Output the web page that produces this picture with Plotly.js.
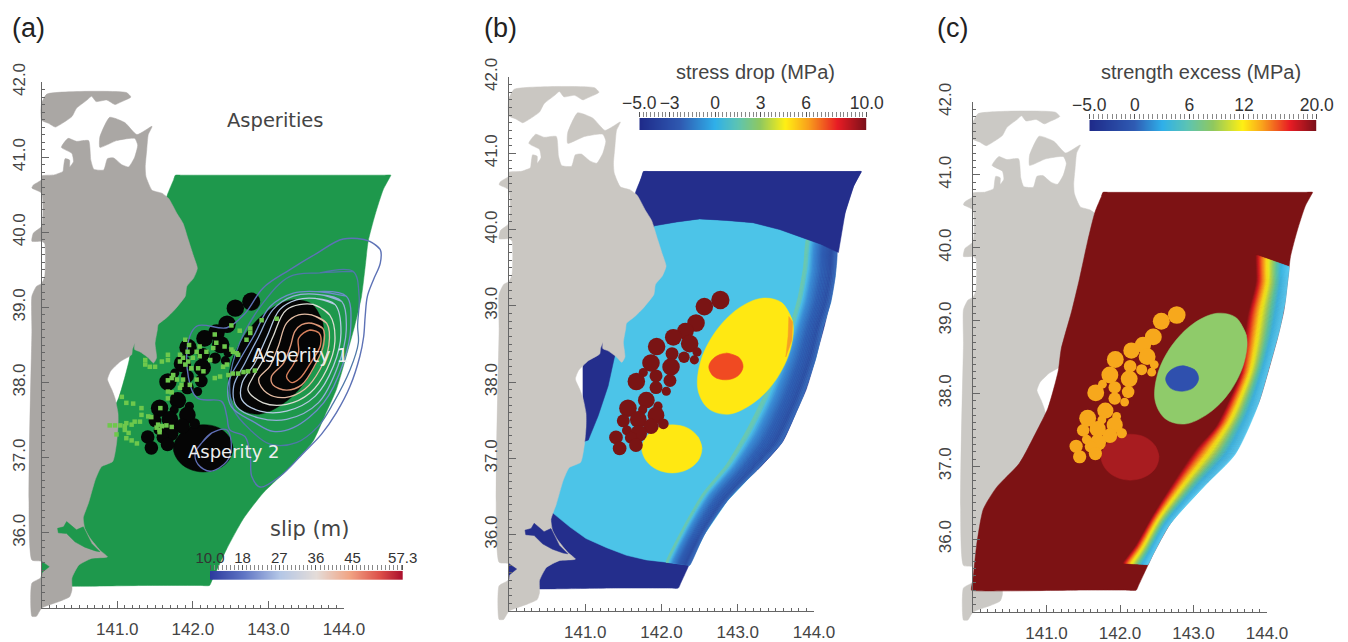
<!DOCTYPE html>
<html><head><meta charset="utf-8">
<script src="https://cdn.plot.ly/plotly-3.0.1.min.js"></script>
<style>html,body{margin:0;padding:0;background:#fff}#p{width:1348px;height:642px}</style>
</head><body><div id="p"></div>
<script>
// ---------- geography, [lon, lat] ----------
const hokkaido = [[140.00,41.72],[140.07,41.84],[141.12,41.86],[141.18,41.80],[141.04,41.73],[140.97,41.70],[140.86,41.76],[140.72,41.74],[140.66,41.81],[140.60,41.76],[140.46,41.65],[140.40,41.54],[140.24,41.43],[140.18,41.40],[140.09,41.45],[140.00,41.49],[139.99,41.61]];
const honshu = [[140.00,40.75],[140.15,40.76],[140.28,40.81],[140.29,40.87],[140.31,40.98],[140.37,40.96],[140.37,40.87],[140.42,40.94],[140.40,41.05],[140.26,41.13],[140.35,41.25],[140.46,41.21],[140.62,41.22],[140.65,40.96],[140.69,40.84],[140.82,40.83],[140.87,40.98],[140.95,40.99],[141.06,40.90],[141.15,40.87],[141.23,41.00],[141.27,41.16],[141.23,41.25],[140.99,41.22],[140.77,41.13],[140.77,41.27],[140.90,41.53],[141.10,41.46],[141.26,41.30],[141.46,41.41],[141.41,41.30],[141.39,41.10],[141.37,40.87],[141.38,40.74],[141.46,40.56],[141.59,40.52],[141.68,40.45],[141.79,40.25],[141.87,40.12],[141.94,39.90],[142.01,39.68],[142.06,39.52],[142.01,39.39],[141.92,39.28],[141.90,39.15],[141.76,38.97],[141.65,38.86],[141.54,38.77],[141.53,38.70],[141.50,38.52],[141.52,38.33],[141.48,38.26],[141.41,38.33],[141.30,38.41],[141.23,38.44],[141.23,38.52],[141.20,38.44],[141.19,38.37],[141.04,38.28],[140.91,38.15],[140.87,38.04],[140.93,37.90],[140.97,37.79],[141.01,37.59],[141.01,37.41],[140.99,37.19],[140.94,36.95],[140.79,36.88],[140.71,36.71],[140.62,36.40],[140.55,36.20],[140.57,36.06],[140.64,35.93],[140.77,35.77],[140.87,35.68],[140.66,35.66],[140.49,35.57],[140.40,35.40],[140.40,35.24],[140.37,35.15],[140.24,35.09],[140.00,35.00],[139.93,34.89],[139.87,34.89],[139.87,35.33],[140.00,35.41],[140.00,35.62],[139.87,35.64],[139.87,38.70],[139.87,39.15],[139.93,39.28],[140.00,39.32],[140.04,39.41],[140.04,39.85],[140.00,39.88],[139.87,39.88],[139.89,39.99],[140.00,40.08],[140.00,40.52],[139.87,40.59],[139.89,40.63],[140.00,40.70]];
const inlet = [[140.21,36.06],[140.29,36.08],[140.33,36.15],[140.46,36.04],[140.55,36.08],[140.60,35.97],[140.66,35.86],[140.77,35.75],[140.71,35.76],[140.57,35.81],[140.44,35.88],[140.33,35.99],[140.22,36.00]];
const bayBlob = [[140.00,35.62],[140.10,35.55],[140.00,35.47]];
const faultPlane = [[141.77,40.76],[141.75,40.71],[141.66,40.49],[141.56,40.09],[141.45,39.58],[141.34,39.12],[141.20,38.61],[141.16,38.31],[141.02,37.80],[140.86,37.47],[140.63,37.04],[140.32,36.71],[140.14,36.41],[140.05,35.92],[140.00,35.45],[139.98,35.30],[140.06,35.29],[140.60,35.29],[141.40,35.30],[142.10,35.30],[142.22,35.30],[142.25,35.36],[142.45,35.79],[142.67,36.19],[142.93,36.53],[143.29,36.88],[143.59,37.22],[143.75,37.57],[143.90,37.91],[144.03,38.35],[144.14,38.75],[144.23,39.14],[144.28,39.54],[144.32,39.88],[144.41,40.23],[144.52,40.57],[144.60,40.72],[144.62,40.76],[144.52,40.76],[143.90,40.76],[143.00,40.76],[142.20,40.76],[141.85,40.76]];

// ---------- asperities ----------
const asperity1 = [[143.58,39.04],[143.72,38.79],[143.69,38.43],[143.50,38.03],[143.21,37.73],[142.88,37.58],[142.62,37.65],[142.48,37.89],[142.51,38.26],[142.70,38.65],[143.00,38.96],[143.32,39.10]];
const asperity2 = [[142.53,37.13],[142.48,37.28],[142.34,37.40],[142.14,37.44],[141.94,37.40],[141.80,37.28],[141.74,37.13],[141.80,36.97],[141.94,36.855],[142.14,36.81],[142.34,36.855],[142.48,36.97]];
const hypoPatch = [[142.85,38.38],[143.02,38.32],[143.07,38.20],[143.00,38.08],[142.85,38.03],[142.69,38.07],[142.62,38.20],[142.69,38.32]];
const asperityTip = [[143.67,38.86],[143.72,38.79],[143.71,38.55],[143.63,38.33],[143.66,38.60]];

// ---------- small patches ----------
const patchLon = [142.772,142.562,142.453,142.313,142.155,142.369,141.936,142.138,142.466,142.295,142.431,141.862,142.125,141.761,141.928,142.111,141.670,141.928,142.063,141.801,141.954,141.560,141.753,141.928,141.499,141.696,142.024,141.862,141.547,141.700,141.403,141.600,141.665,141.451];
const patchLat = [39.077,38.990,38.776,38.667,38.588,38.505,38.466,38.374,38.396,38.326,38.292,38.252,38.200,38.126,38.082,38.021,38.008,37.929,37.881,37.764,37.685,37.659,37.637,37.567,37.493,37.511,37.454,37.419,37.367,37.327,37.275,37.271,37.175,37.131];
const patchDiameterDeg = [.24,.23,.23,.22,.22,.23,.23,.17,.12,.15,.12,.23,.23,.12,.17,.17,.23,.17,.12,.22,.12,.23,.12,.22,.17,.22,.14,.2,.13,.22,.18,.16,.18,.18];

// ---------- aftershocks (panel a) ----------
const shockLon = [142.91,143.11,142.76,142.76,142.71,142.62,142.51,142.29,142.31,142.09,141.90,141.95,141.83,141.87,141.93,142.05,142.18,142.27,142.42,142.51,142.58,142.53,142.60,142.45,142.40,142.36,142.29,142.47,142.53,142.60,142.67,142.73,142.82,142.23,142.09,142.00,141.94,141.90,141.83,142.07,142.14,141.98,141.74,141.72,141.79,141.85,141.83,142.05,141.96,141.87,141.67,141.67,141.67,141.72,141.57,141.37,141.37,141.43,141.50,141.59,141.67,141.67,141.06,141.12,141.21,141.32,141.32,141.30,141.23,141.41,141.45,141.19,141.12,141.10,141.04,140.97,140.90,141.10,141.15,141.12,141.19,141.26,140.99,141.54,141.59,141.65,141.56,141.72,141.56,141.52];
const shockLat = [38.83,38.85,38.72,38.66,38.57,38.69,38.76,38.64,38.53,38.48,38.57,38.50,38.37,38.33,38.41,38.41,38.41,38.46,38.48,38.44,38.39,38.41,38.37,38.24,38.21,38.08,38.06,38.10,38.12,38.12,38.14,38.15,38.16,38.30,38.35,38.33,38.28,38.24,38.28,38.19,38.15,38.19,38.10,38.06,38.04,37.97,37.93,38.04,37.97,38.04,38.03,37.88,37.79,37.87,37.66,38.30,38.24,38.21,38.21,38.28,38.37,38.30,37.81,37.73,37.72,37.66,37.57,37.48,37.48,37.55,37.54,37.44,37.46,37.42,37.43,37.43,37.43,37.37,37.33,37.26,37.23,37.19,37.31,37.44,37.42,37.43,37.37,37.41,37.34,37.40];

// ---------- slip contours (panel a), outer to inner ----------
const slipC0 = [[144.34,39.88],[144.48,39.77],[144.48,39.59],[144.39,39.37],[144.31,39.15],[144.28,38.88],[144.26,38.61],[144.21,38.35],[144.08,37.95],[143.90,37.60],[143.70,37.31],[143.46,37.06],[143.15,36.75],[142.89,36.61],[142.78,36.75],[142.76,37.02],[142.69,37.28],[142.49,37.37],[142.45,37.55],[142.38,37.75],[142.05,37.80],[141.92,38.39],[142.05,38.75],[142.45,38.73],[142.69,38.92],[142.93,39.26],[143.28,39.50],[143.64,39.72],[143.99,39.91]];
const slipC1 = [[143.68,39.46],[144.12,39.48],[144.20,39.15],[144.18,38.75],[144.19,38.53],[144.08,38.17],[143.86,37.73],[143.66,37.42],[143.37,37.20],[143.02,37.18],[142.76,37.37],[142.54,37.64],[142.49,38.04],[142.62,38.53],[142.93,39.06],[143.28,39.41]];
const slipC2 = [[143.64,39.21],[144.03,39.15],[144.09,38.75],[143.99,38.26],[143.73,37.73],[143.33,37.40],[143.06,37.35],[142.80,37.48],[142.51,37.68],[142.47,37.99],[142.62,38.30],[142.80,38.61],[143.02,39.01],[143.33,39.19]];
const slipC3 = [[143.68,39.17],[143.97,39.08],[144.03,38.70],[143.92,38.22],[143.66,37.73],[143.24,37.51],[142.87,37.53],[142.58,37.68],[142.54,37.95],[142.69,38.26],[142.87,38.61],[143.06,38.97],[143.33,39.15]];
const slipC4 = [[143.62,39.12],[143.88,39.04],[143.96,38.66],[143.86,38.22],[143.62,37.82],[143.24,37.62],[142.89,37.62],[142.65,37.77],[142.65,37.99],[142.82,38.26],[142.98,38.61],[143.15,38.97],[143.37,39.10]];
const slipC5 = [[143.59,39.04],[143.81,38.90],[143.88,38.55],[143.77,38.17],[143.55,37.86],[143.24,37.71],[142.93,37.73],[142.73,37.90],[142.80,38.08],[142.93,38.30],[143.06,38.61],[143.24,38.97]];
const slipC6 = [[143.57,38.90],[143.77,38.79],[143.80,38.50],[143.68,38.17],[143.48,37.91],[143.22,37.80],[142.98,37.86],[142.87,38.04],[143.02,38.22],[143.13,38.48],[143.24,38.79],[143.40,38.90]];
const slipC7 = [[143.57,38.79],[143.72,38.72],[143.73,38.50],[143.62,38.24],[143.44,37.97],[143.24,37.90],[143.06,37.97],[143.04,38.08],[143.20,38.26],[143.29,38.48],[143.35,38.68],[143.44,38.77]];
const slipC8 = [[143.55,38.70],[143.67,38.66],[143.69,38.50],[143.57,38.28],[143.42,38.06],[143.31,38.00],[143.24,38.08],[143.33,38.24],[143.40,38.41],[143.40,38.59]];
const slipLoop2 = [[142.12,37.20],[142.25,37.33],[142.45,37.37],[142.51,37.15],[142.45,36.95],[142.23,36.82],[142.07,36.91],[142.03,37.06]];

// ---------- panel b regions ----------
const arcNorth = [[141.91,40.05],[142.20,40.10],[142.50,40.14],[142.85,40.12],[143.20,40.09],[143.55,40.00],[143.86,39.89],[144.08,39.81],[144.30,39.72]];
const arcSouth = [[140.58,36.28],[140.80,36.10],[141.01,35.95],[141.28,35.83],[141.54,35.73],[141.80,35.67],[142.06,35.64],[142.37,35.60]];
const sendaiStrip = [[141.21,38.41],[141.39,38.36],[141.30,37.95],[141.17,37.56],[141.04,37.24],[140.97,37.22],[140.97,38.34]];
const stressInner = [[143.90,39.87],[143.86,39.50],[143.79,39.11],[143.68,38.72],[143.55,38.34],[143.33,37.80],[143.11,37.36],[142.85,36.92],[142.54,36.54],[142.28,36.09],[142.06,35.64]];
const stressOuter = [[144.30,39.72],[144.28,39.40],[144.22,39.05],[144.12,38.73],[144.02,38.30],[143.84,37.78],[143.57,37.20],[143.25,36.85],[142.86,36.44],[142.56,36.00],[142.37,35.60]];

// ---------- panel c regions ----------
const strengthInner = [[143.85,39.90],[143.85,39.53],[143.74,39.07],[143.67,38.56],[143.63,38.26],[143.31,37.55],[143.04,37.24],[142.77,36.84],[142.45,36.33],[142.22,35.92],[142.04,35.67]];
const strengthOuter = [[144.30,39.74],[144.28,39.53],[144.25,39.27],[144.17,38.87],[144.03,38.36],[143.87,37.82],[143.57,37.17],[143.16,36.74],[142.67,36.19],[142.45,35.79],[142.38,35.65]];

// ---------- colour bars ----------
const slipLevels = [10,18,27,36,45,57.3];
const slipLabels = ['10.0','18','27','36','45','57.3'];
const stressLevels = [-5,-3,0,3,6,10];
const stressLabels = ['\u22125.0','\u22123','0','3','6','10.0'];
const strengthLevels = [-5,0,6,12,20];
const strengthLabels = ['\u22125.0','0','6','12','20.0'];

// ---------- styles ----------
const W=1348,H=642;
const slipScale=[[0,'#2c3a9e'],[.17,'#5f74c4'],[.36,'#b3c6e6'],[.55,'#e4dcd8'],[.72,'#f1a484'],[.88,'#dc4e48'],[1,'#a80c2c']];
const stressScale=[[0,'#1f2b8a'],[.18,'#2f5ab2'],[.33,'#2fb0ea'],[.43,'#5cc4b4'],[.53,'#8fc860'],[.64,'#fff014'],[.74,'#f9a01c'],[.87,'#e81c24'],[1,'#78101a']];
const strengthScale=[[0,'#1f2b8a'],[.2,'#2f5cb4'],[.32,'#2fb0ea'],[.43,'#5cc4b4'],[.54,'#8fc860'],[.67,'#fff014'],[.76,'#f9a01c'],[.88,'#e81c24'],[1,'#78101a']];
const bandStressStops=[[0,'#6cc8ae'],[.1,'#68c8b4'],[.16,'#4bbce6'],[.3,'#3a8ad4'],[.55,'#2f5fb4'],[.85,'#2c4ea3'],[1,'#3868b8']];
const bandStrengthStops=[[0,'#7d1214'],[.1,'#d81c20'],[.2,'#f3701e'],[.33,'#f9d81a'],[.4,'#e8e820'],[.52,'#9ccc60'],[.64,'#5cc4a0'],[.78,'#3cb4e0'],[1,'#58c8f0']];

const panels=[
 {x0:41.7,x1:344,y0:82,y1:608,dx:[25,440],dy:[70,640],stand:9},
 {x0:509,x1:814,y0:77,y1:611,dx:[480,900],dy:[65,640],stand:4},
 {x0:973,x1:1267,y0:102,y1:612,dx:[950,1340],dy:[90,640],stand:14}
];
const bars=[
 {x0:210,x1:402.7,y0:570.7,y1:580,lv:slipLevels,lb:slipLabels,cs:slipScale,fs:15,minor:1},
 {x0:639.3,x1:866.7,y0:118,y1:130,lv:stressLevels,lb:stressLabels,cs:stressScale,fs:17.5,minor:.25},
 {x0:1089.3,x1:1316.7,y0:120,y1:131,lv:strengthLevels,lb:strengthLabels,cs:strengthScale,fs:17.5,minor:.5}
];
const landCol=['#aaa7a4','#cac7c2','#cbc9c5'];

const traces=[];
function poly(i,pts,col,sm){
  const c=sm?pts.concat([pts[0],pts[1]]):pts.concat([pts[0]]);
  traces.push({type:'scatter',mode:'lines',xaxis:'x'+(i+1),yaxis:'y'+(i+1),x:c.map(a=>a[0]),y:c.map(a=>a[1]),
    fill:'toself',fillcolor:col,line:{color:col,width:0.5,shape:sm?'spline':'linear',smoothing:sm||1},hoverinfo:'skip'});
}
function contour(pts,col,w){
  const c=pts.concat([pts[0],pts[1]]);
  traces.push({type:'scatter',mode:'lines',xaxis:'x1',yaxis:'y1',x:c.map(a=>a[0]),y:c.map(a=>a[1]),
    line:{color:col,width:w||1.3,shape:'spline',smoothing:1},hoverinfo:'skip'});
}
function patches(i,col){
  const s=(panels[i].x1-panels[i].x0)/4;
  traces.push({type:'scatter',mode:'markers',xaxis:'x'+(i+1),yaxis:'y'+(i+1),x:patchLon,y:patchLat,
    marker:{color:col,opacity:1,size:patchDiameterDeg.map(d=>d*s),line:{width:0}},hoverinfo:'skip'});
}
function hex(c){return [1,3,5].map(k=>parseInt(c.substr(k,2),16));}
function stopCol(st,f){
  for(let k=1;k<st.length;k++){ if(f<=st[k][0]){
    const t=(f-st[k-1][0])/(st[k][0]-st[k-1][0]),a=hex(st[k-1][1]),b=hex(st[k][1]);
    return 'rgb('+a.map((v,n)=>Math.round(v+(b[n]-v)*t)).join(',')+')';}}
  return st[st.length-1][1];
}
// gradient band between two edge curves, drawn as thin strips
function band(i,inner,outer,stops,n){
  const mix=f=>inner.map((p,k)=>[p[0]+(outer[k][0]-p[0])*f,p[1]+(outer[k][1]-p[1])*f]);
  for(let s=0;s<n;s++){
    const a=mix(s/n),b=mix((s+1)/n).reverse();
    const col=stopCol(stops,(s+.5)/n), c=a.concat(b,[a[0]]);
    traces.push({type:'scatter',mode:'lines',xaxis:'x'+(i+1),yaxis:'y'+(i+1),x:c.map(q=>q[0]),y:c.map(q=>q[1]),
      fill:'toself',fillcolor:col,line:{color:col,width:0.6,shape:'spline',smoothing:.7},hoverinfo:'skip'});
  }
}

// PANEL A
const green='#1e984c';
poly(0,faultPlane,green,.6);
poly(0,hokkaido,landCol[0],.5);poly(0,honshu,landCol[0],.5);poly(0,inlet,green);poly(0,bayBlob,green);
poly(0,asperity1,'#050505',1);poly(0,asperity2,'#050505',1);
patches(0,'#050505');
contour(slipC0,'#5d72b6',1.4);contour(slipC1,'#4f78a8',1.3);contour(slipC2,'#6f8ccc',1.3);contour(slipC3,'#94b0d8',1.3);
contour(slipC4,'#b6cbe4',1.3);contour(slipC5,'#dcdcd4',1.3);contour(slipC6,'#e4bda4',1.3);contour(slipC7,'#dd9676',1.4);contour(slipC8,'#d8805c',1.4);
contour(slipLoop2,'#5f6fb5',1.3);
traces.push({type:'scatter',mode:'markers',xaxis:'x1',yaxis:'y1',x:shockLon,y:shockLat,marker:{symbol:'square',size:4.5,color:'#6ec84c',line:{width:0}},hoverinfo:'skip'});

// PANEL B
const navy='#242e8c',sky='#4cc4e8';
poly(1,faultPlane,navy,.6);
poly(1,arcNorth.concat(stressOuter.slice(1),arcSouth.slice().reverse(),[[140.3,36.9],[141.04,37.24],[141.39,38.36],[141.5,39.0]]),sky);
band(1,stressInner,stressOuter,bandStressStops,22);
poly(1,[[144.32,39.70],[144.41,40.23],[144.52,40.57],[144.62,40.76],[141.76,40.76],[141.62,40.3]].concat(arcNorth.slice(0,-1)),navy);
poly(1,sendaiStrip,navy);
poly(1,hokkaido,landCol[1],.5);poly(1,honshu,landCol[1],.5);poly(1,inlet,navy);poly(1,bayBlob,navy);
poly(1,asperity1,'#ffe812',1);poly(1,asperityTip,'#f6a024');poly(1,asperity2,'#ffe812',1);poly(1,hypoPatch,'#f04a22',1);
patches(1,'#7a1414');

// PANEL C
poly(2,hokkaido,landCol[2],.5);poly(2,honshu,landCol[2],.5);
poly(2,faultPlane,'#7d1214',.6);
band(2,strengthInner,strengthOuter,bandStrengthStops,40);
poly(2,asperity1,'#8fcb6a',1);poly(2,asperity2,'#a81c20',1);poly(2,hypoPatch,'#2f50ae',1);
patches(2,'#f7a81c');

// layout
const layout={width:W,height:H,margin:{l:0,r:0,t:0,b:0},paper_bgcolor:'#fff',plot_bgcolor:'rgba(0,0,0,0)',showlegend:false,hovermode:false,
  font:{family:'Liberation Sans, Arial, sans-serif',color:'#444'},annotations:[]};
const hide={visible:false,fixedrange:true};
panels.forEach((p,i)=>{
  const sx=(p.x1-p.x0)/4, sy=(p.y1-p.y0)/7;
  layout['xaxis'+(i+1)]=Object.assign({},hide,{domain:[p.dx[0]/W,p.dx[1]/W],range:[140+(p.dx[0]-p.x0)/sx,140+(p.dx[1]-p.x0)/sx],anchor:'y'+(i+1)});
  layout['yaxis'+(i+1)]=Object.assign({},hide,{domain:[1-p.dy[1]/H,1-p.dy[0]/H],range:[35-(p.dy[1]-p.y1)/sy,35+(p.y1-p.dy[0])/sy],anchor:'x'+(i+1)});
  const n=i+4;
  traces.push({type:'scatter',mode:'markers',x:[140],y:[35],xaxis:'x'+n,yaxis:'y'+n,marker:{opacity:0,size:1},hoverinfo:'skip'});
  const tk={showline:true,linecolor:'#666',linewidth:1.2,ticks:'inside',tickcolor:'#666',tickwidth:1,ticklen:7,showgrid:false,zeroline:false,fixedrange:true,
    tickfont:{size:17,color:'#444',family:'Liberation Sans, Arial, sans-serif'}};
  layout['xaxis'+n]=Object.assign({},tk,{domain:[p.x0/W,p.x1/W],range:[140,144],anchor:'y'+n,tickmode:'array',tickvals:[140,141,142,143,144],ticktext:['','141.0','142.0','143.0','144.0'],ticklabelstandoff:5,
    minor:{dtick:.1,tick0:140,ticks:'inside',ticklen:3,tickcolor:'#666',tickwidth:1,showgrid:false}});
  layout['yaxis'+n]=Object.assign({},tk,{domain:[1-p.y1/H,1-p.y0/H],range:[35,42],anchor:'x'+n,tickmode:'array',tickvals:[35,36,37,38,39,40,41,42],ticktext:['','36.0','37.0','38.0','39.0','40.0','41.0','42.0'],tickangle:-90,ticklabelstandoff:p.stand,
    minor:{dtick:.1,tick0:35,ticks:'inside',ticklen:3,tickcolor:'#666',tickwidth:1,showgrid:false}});
});
bars.forEach((b,i)=>{
  const n=i+7, lo=b.lv[0], hi=b.lv[b.lv.length-1];
  traces.push({type:'heatmap',xaxis:'x'+n,yaxis:'y'+n,x:b.lv,y:[0,1],z:[b.lv,b.lv],colorscale:b.cs,zmin:lo,zmax:hi,zsmooth:'best',showscale:false,hoverinfo:'skip'});
  layout['xaxis'+n]={domain:[b.x0/W,b.x1/W],range:[lo,hi],anchor:'y'+n,side:'top',tickmode:'array',tickvals:b.lv,ticktext:b.lb,ticks:'outside',ticklen:5,tickcolor:'#555',tickwidth:1,ticklabelstandoff:-4,
    tickfont:{size:b.fs,color:'#333',family:'Liberation Sans, Arial, sans-serif'},showgrid:false,zeroline:false,showline:false,fixedrange:true,ticklabeloverflow:'allow',
    minor:{dtick:b.minor,tick0:lo,ticks:'outside',ticklen:5,tickcolor:'#888',tickwidth:1,showgrid:false}};
  layout['yaxis'+n]={domain:[1-b.y1/H,1-b.y0/H],range:[0,1],anchor:'x'+n,visible:false,fixedrange:true};
});
function note(text,px,py,size,color,family){
  layout.annotations.push({text:text,xref:'paper',yref:'paper',x:px/W,y:1-py/H,xanchor:'center',yanchor:'middle',showarrow:false,
    font:{size:size,color:color,family:family||'Liberation Sans, Arial, sans-serif'}});
}
note('(a)',28,28,27,'#222');note('(b)',500,28,27,'#222');note('(c)',952,28,27,'#222');
note('Asperities',275,121,19.5,'#444','DejaVu Sans');
note('slip (m)',309,529,21,'#444','DejaVu Sans');
note('Asperity 1',300,355,19,'#eeeeee','DejaVu Sans');
note('Asperity 2',233,451,18,'#eeeeee','DejaVu Sans');
note('stress drop (MPa)',755,72,20,'#444');
note('strength excess (MPa)',1201,72,20,'#444');

Plotly.newPlot('p',traces,layout,{displayModeBar:false,staticPlot:true});
</script></body></html>
